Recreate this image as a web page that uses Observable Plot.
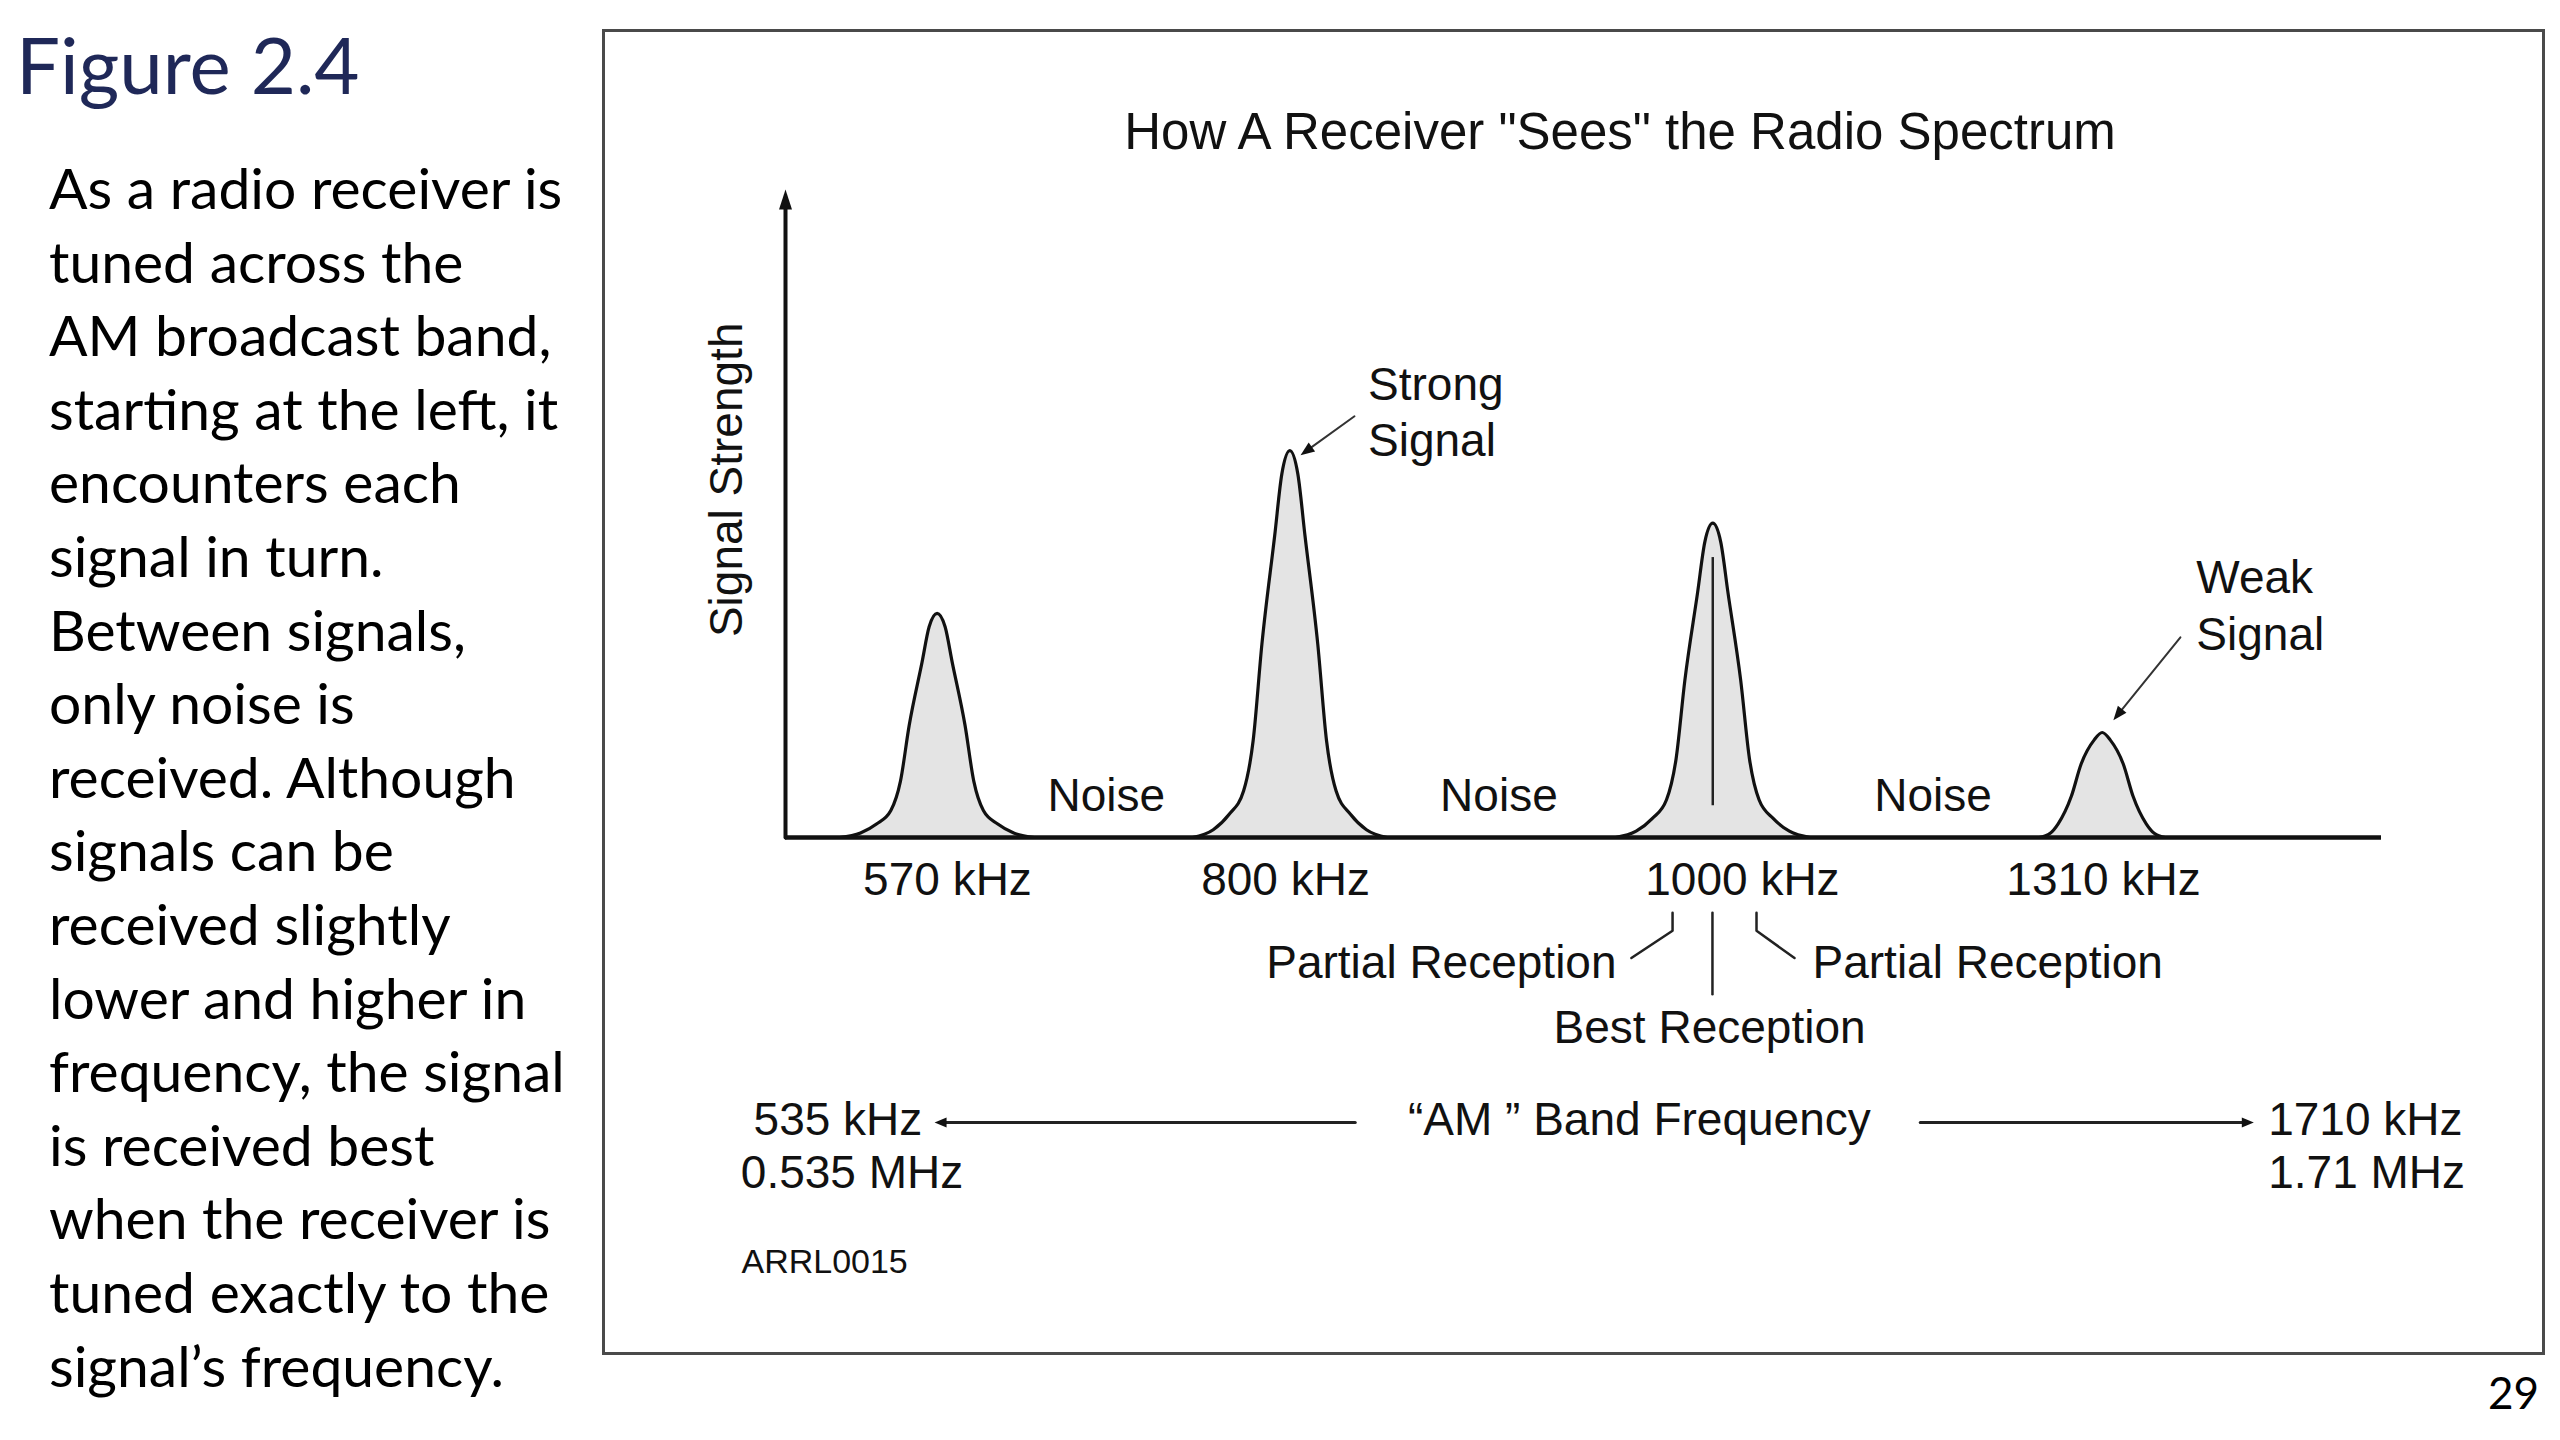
<!DOCTYPE html>
<html>
<head>
<meta charset="utf-8">
<script src="https://cdn.jsdelivr.net/npm/d3@7"></script>
<script src="https://cdn.jsdelivr.net/npm/@observablehq/plot@0.6"></script>
<style>
  html, body { margin: 0; padding: 0; background: #fff; }
  #page { position: relative; width: 2560px; height: 1440px; overflow: hidden; background: #fff; }
  #fig { position: absolute; left: 16px; top: 25px; font: 78px Lato, "Open Sans", sans-serif; line-height: 1; color: #1f2858; white-space: nowrap; }
  #desc { position: absolute; left: 49px; top: 151px; font: 57px Lato, "Open Sans", sans-serif; line-height: 73.6px; color: #000; white-space: nowrap; }
  #box { position: absolute; left: 602px; top: 29px; width: 1937px; height: 1320px; border: 3px solid #4a4a4a; }
  #title { position: absolute; left: 1620px; top: 131px; transform: translate(-50%, -50%); font: 51px "Liberation Sans", Arial, sans-serif; color: #111; white-space: nowrap; }
  #chart { position: absolute; left: 605px; top: 160px; width: 1936px; }
  #chart svg { max-width: none; }
  #pnum { position: absolute; right: 21px; top: 1370px; font: 44px Lato, "Open Sans", sans-serif; line-height: 1; color: #000; }
</style>
</head>
<body>
<div id="page">
  <div id="fig">Figure 2.4</div>
  <div id="desc">As a radio receiver is<br>tuned across the<br>AM broadcast band,<br>starting at the left, it<br>encounters each<br>signal in turn.<br>Between signals,<br>only noise is<br>received. Although<br>signals can be<br>received slightly<br>lower and higher in<br>frequency, the signal<br>is received best<br>when the receiver is<br>tuned exactly to the<br>signal’s frequency.</div>
  <div id="box"></div>
  <div id="title">How A Receiver "Sees" the Radio Spectrum</div>
  <div id="chart"></div>
  <div id="pnum">29</div>
</div>
<script>
// ---------- data (x = tuning position along the drawn band, 0–100; y = signal strength, 0–10) ----------
const freqLabels   = ["570 kHz", "800 kHz", "1000 kHz", "1310 kHz"];
const peakPos      = [9.5, 31.6, 58.1, 82.5];
const peakStrength = [3.46, 5.97, 4.85, 1.62];
const peakProfile  = ["wide", "wide", "wide", "narrow"];
const labelPos     = [10.15, 31.33, 59.96, 82.58];

const wideOffsets   = [-6.1, -4.8, -3.8, -2.9, -2.3, -1.75, -0.95, -0.5, 0, 0.5, 0.95, 1.75, 2.3, 2.9, 3.8, 4.8, 6.1];
const wideLevels    = [0, 0.02, 0.06, 0.12, 0.25, 0.5, 0.78, 0.94, 1, 0.94, 0.78, 0.5, 0.25, 0.12, 0.06, 0.02, 0];
const narrowOffsets = [-3.95, -3.26, -2.76, -1.94, -1.32, -0.5, 0, 0.5, 1.32, 1.94, 2.76, 3.26, 3.95];
const narrowLevels  = [0, 0.04, 0.13, 0.39, 0.7, 0.93, 1, 0.93, 0.7, 0.39, 0.13, 0.04, 0];

const noisePos = [20.1, 44.7, 71.9];

const yLabel = "Signal Strength";
const yLabelLevel = 5.52;

const calloutText  = ["Strong\nSignal", "Weak\nSignal"];
const calloutPos   = [36.5, 88.4];
const calloutLevel = [6.59, 3.61];
const calloutFrom  = [[35.65, 6.50], [87.4, 3.09]];
const calloutTo    = [[32.27, 5.90], [83.2, 1.81]];

const bestLine = {x: 58.1, y1: 0.49, y2: 4.32};

const receptionText  = ["Partial Reception", "Best Reception", "Partial Reception"];
const receptionPos   = [52.07, 57.9, 64.35];
const receptionLevel = [-1.94, -2.95, -1.94];
const leaderX = [[55.58, 55.58, 53.0], [58.08, 58.08], [60.84, 60.84, 63.22]];
const leaderY = [[-1.16, -1.44, -1.86], [-1.16, -2.42], [-1.16, -1.44, -1.86]];

const bandTitle     = "“AM ” Band Frequency";
const bandTitlePos  = 53.5;
const bandLow       = ["535 kHz", "0.535 MHz"];
const bandLowPos    = [-2.0, -2.8];
const bandHigh      = ["1710 kHz", "1.71 MHz"];
const bandHighPos   = [92.9, 92.9];
const bandTextLevel = [-4.37, -5.18];
const bandArrowLevel = -4.40;
const bandLowArrow  = [35.7, 9.34];
const bandHighArrow = [71.1, 92.0];

const sourceText = "ARRL0015";
const sourcePos = -2.76, sourceLevel = -6.56;

// ---------- layout ----------
const W = 1936, H = 1190, ML = 180, MR = 160, MT = 29, MB = 513;
const kx = (W - ML - MR) / 100, ky = (H - MT - MB) / 10;

// peak table
const peakRows = [];
peakPos.forEach((p, i) => {
  const offs = peakProfile[i] === "wide" ? wideOffsets : narrowOffsets;
  const lev = peakProfile[i] === "wide" ? wideLevels : narrowLevels;
  offs.forEach((o, j) => peakRows.push({peak: freqLabels[i], x: p + o, y: peakStrength[i] * lev[j]}));
});

// arrows: shaft + filled head (head geometry in pixels converted to data units)
function arrowParts(id, x1, y1, x2, y2, L, hw, shafts, heads) {
  const dxp = (x2 - x1) * kx, dyp = (y2 - y1) * ky;
  const len = Math.hypot(dxp, dyp);
  const ux = dxp / len, uy = dyp / len;
  const bx = x2 - ux * L / kx, by = y2 - uy * L / ky;
  shafts.push({id, x: x1, y: y1}, {id, x: bx + ux * 2 / kx, y: by + uy * 2 / ky});
  heads.push({id, x: x2, y: y2},
             {id, x: bx - uy * hw / kx, y: by + ux * hw / ky},
             {id, x: bx + uy * hw / kx, y: by - ux * hw / ky});
}
const thinShafts = [], thinHeads = [], bandShafts = [], bandHeads = [], axisShafts = [], axisHeads = [];
calloutFrom.forEach((f, i) => arrowParts("c" + i, f[0], f[1], calloutTo[i][0], calloutTo[i][1], 14, 5.5, thinShafts, thinHeads));
arrowParts("bl", bandLowArrow[0], bandArrowLevel, bandLowArrow[1], bandArrowLevel, 12, 5, bandShafts, bandHeads);
arrowParts("bh", bandHighArrow[0], bandArrowLevel, bandHighArrow[1], bandArrowLevel, 12, 5, bandShafts, bandHeads);
arrowParts("ya", 0, 0, 0, 10, 20, 6.5, axisShafts, axisHeads);

const leaderRows = [];
leaderX.forEach((xs, i) => xs.forEach((x, j) => leaderRows.push({id: i, x, y: leaderY[i][j]})));

const freqRows = freqLabels.map((t, i) => ({t, x: labelPos[i]}));
const calloutRows = calloutText.map((t, i) => ({t, x: calloutPos[i], y: calloutLevel[i]}));
const recRows = receptionText.map((t, i) => ({t, x: receptionPos[i], y: receptionLevel[i]}));

const ink = "#111";
const chart = Plot.plot({
  width: W, height: H,
  marginLeft: ML, marginRight: MR, marginTop: MT, marginBottom: MB,
  x: {domain: [0, 100], axis: null},
  y: {domain: [0, 10], axis: null},
  style: {fontFamily: "'Liberation Sans', Arial, sans-serif", fontSize: "46px", background: "transparent", color: ink, overflow: "visible"},
  marks: [
    Plot.areaY(peakRows, {x: "x", y: "y", z: "peak", fill: "#e4e4e4", curve: "monotone-x"}),
    Plot.line(peakRows, {x: "x", y: "y", z: "peak", stroke: ink, strokeWidth: 3.2, curve: "monotone-x"}),
    Plot.ruleX([bestLine], {x: "x", y1: "y1", y2: "y2", stroke: "#222", strokeWidth: 2.5}),
    Plot.ruleY([0], {stroke: ink, strokeWidth: 4.5}),
    Plot.line(axisShafts, {x: "x", y: "y", z: "id", stroke: ink, strokeWidth: 4}),
    Plot.line(axisHeads, {x: "x", y: "y", z: "id", fill: ink, stroke: "none"}),
    // y label
    Plot.text([yLabel], {x: 0, y: yLabelLevel, dx: -58, rotate: -90, text: d => d}),
    // frequency labels
    Plot.text(freqRows, {x: "x", y: 0, text: "t", dy: 43}),
    // noise
    Plot.text(noisePos, {x: d => d, y: 0, text: () => "Noise", dy: -41}),
    // callouts
    Plot.text(calloutRows, {x: "x", y: "y", text: "t", textAnchor: "start", lineHeight: 1.22}),
    Plot.line(thinShafts, {x: "x", y: "y", z: "id", stroke: "#333", strokeWidth: 2}),
    Plot.line(thinHeads, {x: "x", y: "y", z: "id", fill: ink, stroke: "none"}),
    // reception annotations
    Plot.line(leaderRows, {x: "x", y: "y", z: "id", stroke: "#222", strokeWidth: 2.5}),
    Plot.text(recRows.filter((d, i) => i === 0), {x: "x", y: "y", text: "t", textAnchor: "end"}),
    Plot.text(recRows.filter((d, i) => i === 1), {x: "x", y: "y", text: "t"}),
    Plot.text(recRows.filter((d, i) => i === 2), {x: "x", y: "y", text: "t", textAnchor: "start"}),
    // band frequency row
    Plot.text([bandTitle], {x: bandTitlePos, y: bandTextLevel[0], text: d => d}),
    Plot.text(bandLow, {x: (d, i) => bandLowPos[i], y: (d, i) => bandTextLevel[i], text: d => d, textAnchor: "start"}),
    Plot.text(bandHigh, {x: (d, i) => bandHighPos[i], y: (d, i) => bandTextLevel[i], text: d => d, textAnchor: "start"}),
    Plot.line(bandShafts, {x: "x", y: "y", z: "id", stroke: "#222", strokeWidth: 3}),
    Plot.line(bandHeads, {x: "x", y: "y", z: "id", fill: ink, stroke: "none"}),
    // source id
    Plot.text([sourceText], {x: sourcePos, y: sourceLevel, text: d => d, textAnchor: "start", fontSize: 34})
  ]
});
document.getElementById("chart").appendChild(chart);
</script>
</body>
</html>
